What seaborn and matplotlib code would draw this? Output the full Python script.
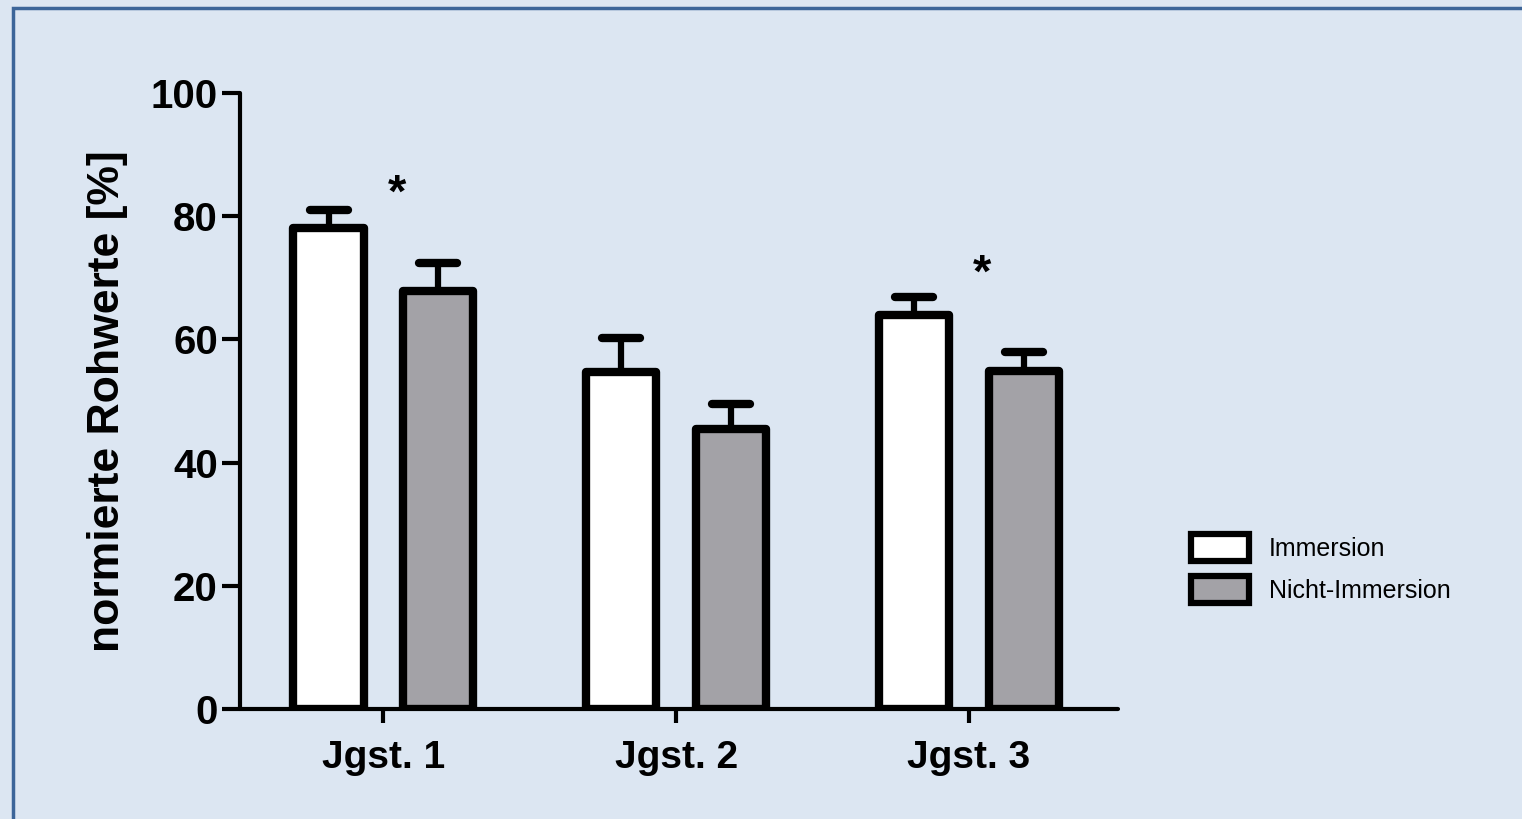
import matplotlib
matplotlib.use("Agg")
import matplotlib.pyplot as plt
import matplotlib.patches as mpatches
import seaborn as sns
import pandas as pd

# values
groups = ["Jgst. 1", "Jgst. 2", "Jgst. 3"]
conditions = ["Immersion", "Nicht-Immersion"]
immersion = [78.1, 54.7, 64.0]
immersion_err = [2.9, 5.5, 2.9]
nicht_immersion = [67.9, 45.5, 54.9]
nicht_immersion_err = [4.5, 4.0, 3.1]
# significance stars: (group index, height)
stars = [(0, 83.5), (2, 70.5)]

bg = "#dce6f2"
gray = "#a3a2a7"

df = pd.DataFrame({
    "group": groups * 2,
    "condition": [conditions[0]] * 3 + [conditions[1]] * 3,
    "value": immersion + nicht_immersion,
})

sns.set_style("ticks")
plt.rcParams["font.family"] = ["Liberation Sans", "DejaVu Sans"]
plt.rcParams.update({"text.color": "black", "axes.labelcolor": "black",
                     "xtick.color": "black", "ytick.color": "black",
                     "axes.edgecolor": "black"})

fig = plt.figure(figsize=(15.22, 8.19), dpi=100, facecolor=bg)
ax = fig.add_axes([0.1577, 0.1343, 0.7346 - 0.1577, 0.8864 - 0.1343])
ax.set_facecolor(bg)

sns.barplot(data=df, x="group", y="value", hue="condition", order=groups,
            hue_order=conditions, palette=["white", gray], edgecolor="black",
            linewidth=6, width=0.75, gap=0.36, errorbar=None, legend=False,
            saturation=1, ax=ax)

# one-sided error bars on top of each bar
bars = [p for p in ax.patches if isinstance(p, mpatches.Rectangle)]
errs = immersion_err + nicht_immersion_err
for bar, err in zip(bars, errs):
    bar.set_joinstyle("round")
    cx = bar.get_x() + bar.get_width() / 2
    h = bar.get_height()
    ax.plot([cx, cx], [h, h + err], color="black", lw=4.5, zorder=1,
            solid_capstyle="butt")
    ax.plot([cx - 0.065, cx + 0.065], [h + err, h + err], color="black", lw=6,
            zorder=1, solid_capstyle="round")

for gi, yv in stars:
    ax.text(gi + 0.045, yv, "*", ha="center", va="center", fontsize=34,
            fontweight="bold")

ax.set_ylim(0, 100)
ax.set_xlim(-0.49, 2.51)
ax.set_yticks([0, 20, 40, 60, 80, 100])
ax.set_xlabel("")
ax.set_ylabel("normierte Rohwerte [%]", fontsize=32, labelpad=16)
ax.yaxis.label.set_fontweight("bold")
sns.despine(ax=ax)
for s in ["left", "bottom"]:
    ax.spines[s].set_linewidth(3)
    ax.spines[s].set_capstyle("round")
ax.tick_params(axis="y", length=13, width=3, pad=3, labelsize=29)
ax.tick_params(axis="x", length=10, width=3, pad=12, labelsize=28)
for lab in ax.get_xticklabels() + ax.get_yticklabels():
    lab.set_fontweight("bold")

handles = [mpatches.Patch(facecolor=c, edgecolor="black", linewidth=4.5, label=l)
           for c, l in zip(["white", gray], conditions)]
fig.legend(handles=handles, loc="center left", bbox_to_anchor=(0.768, 0.306),
           frameon=False, handlelength=2.3, handleheight=1.3, handletextpad=0.8,
           labelspacing=0.6,
           prop={"family": ["Liberation Sans Narrow", "Liberation Sans"], "size": 18})

# outer frame
fig.patches.append(mpatches.Rectangle((13 / 1522, -0.05), 1.1, 1 - 8 / 819 + 0.05,
                                      transform=fig.transFigure, fill=False,
                                      edgecolor="#3c6599", linewidth=2.5))

fig.savefig("out.png", dpi=100, facecolor=bg)
